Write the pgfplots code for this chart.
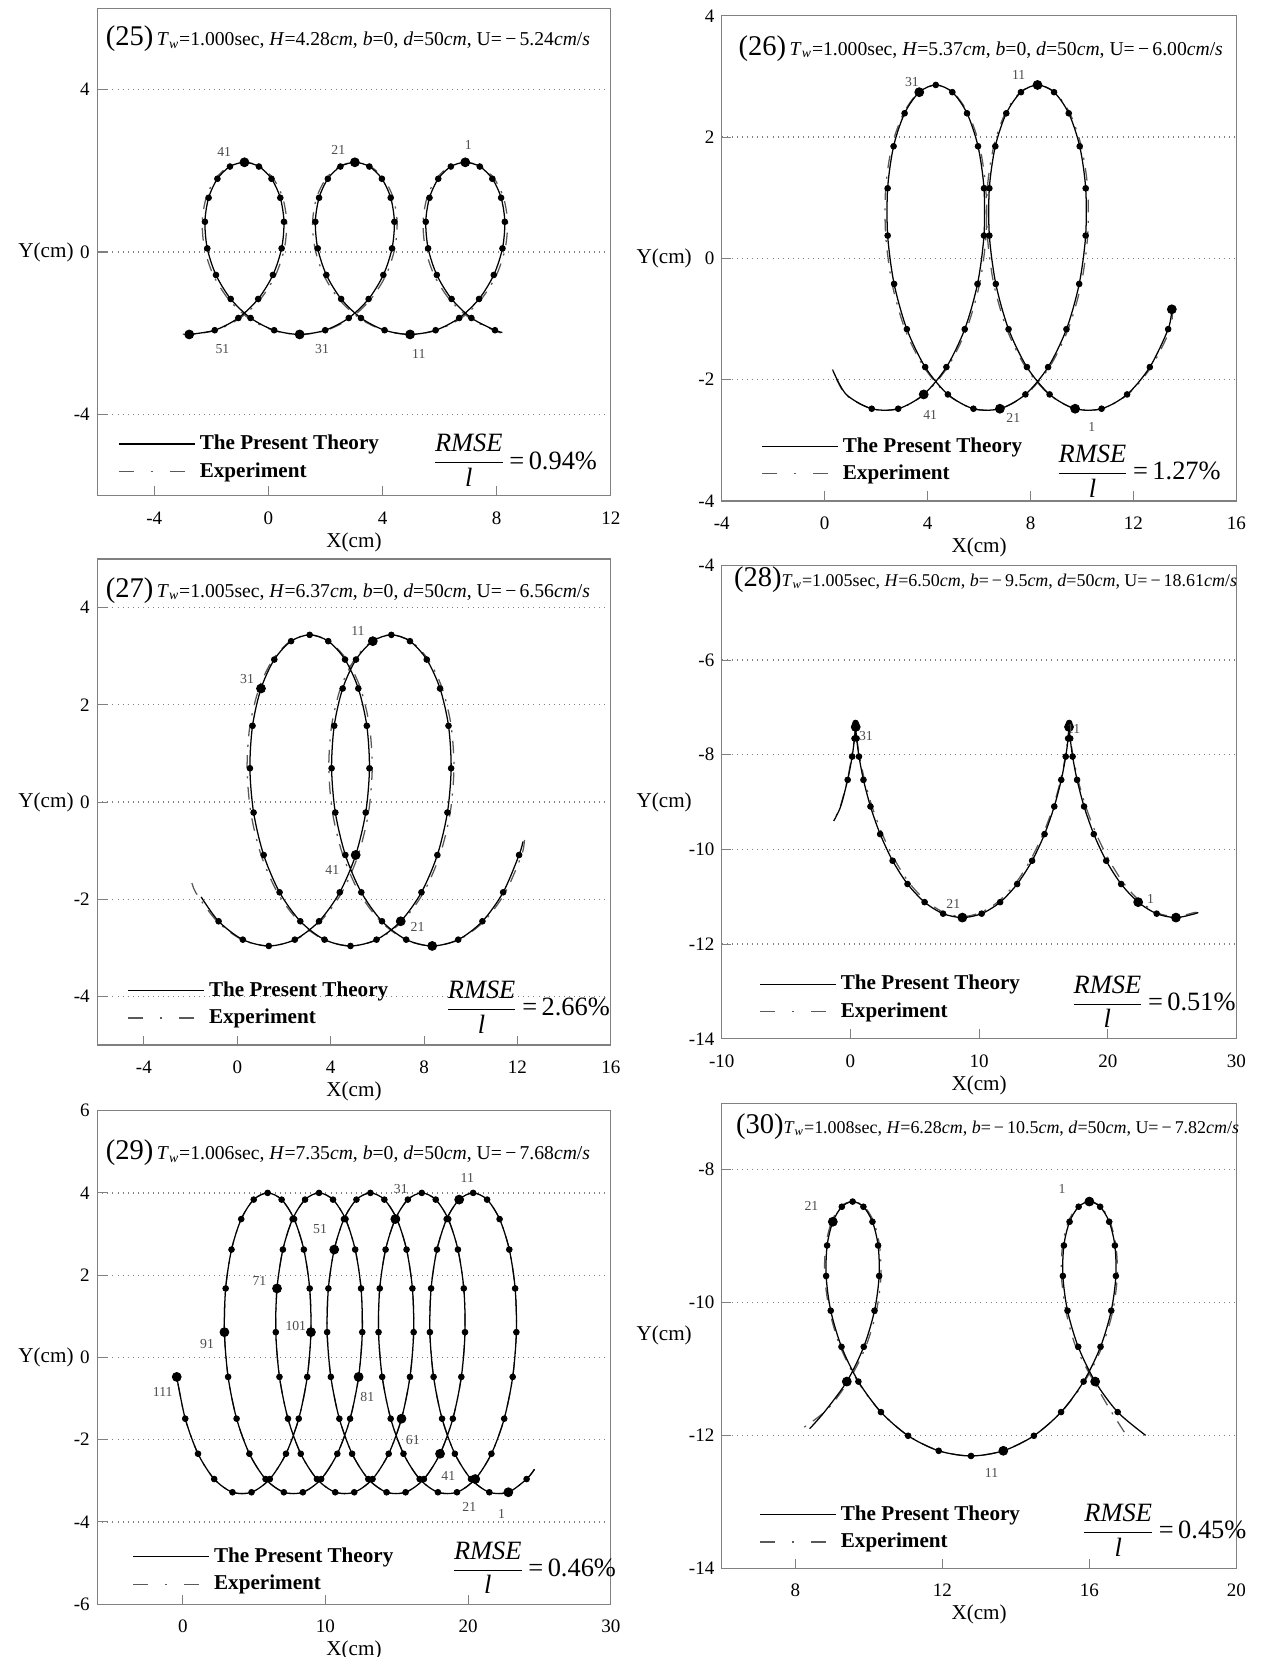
\documentclass[border=0pt]{standalone}
\usepackage{fontspec}
\setmainfont{Liberation Serif}
\usepackage{pgfplots}
\usepackage{pgfplotstable}
\pgfplotsset{compat=1.18}

\definecolor{framec}{gray}{0.5}
\definecolor{gridc}{gray}{0.5}
\definecolor{expc}{gray}{0.35}
\definecolor{lblc}{gray}{0.3}

\newcommand{\ptitle}[5]{{\fontsize{13.5}{14}\selectfont(#1)}\,{\fontsize{9.3}{10}\selectfont\textit{T}\textsubscript{\textit{w}}=#2sec, \textit{H}=#3\textit{cm}, \textit{b}=#4, \textit{d}=50\textit{cm}, U=\,−\,#5\textit{cm}/\textit{s}}}
\newcommand{\rmse}[1]{$\displaystyle\frac{\mbox{\itshape RMSE}}{\mbox{\itshape l}}$\,=\,#1\%}

\tikzset{lbl/.style={font=\fontsize{6.5}{7}\selectfont, text=lblc, inner sep=0pt}}

\pgfplotsset{
  panel/.style={
    scale only axis, anchor=south west, clip mode=individual,
    axis line style={framec, line width=0.6pt},
    tick style={framec, line width=0.5pt},
    tick align=inside, major tick length=4.5pt, tick pos=left,
    ymajorgrids, grid style={gridc, dotted, line width=0.6pt},
    ticklabel style={font=\fontsize{9}{10}\selectfont},
    xticklabel style={yshift=-4pt},
    /pgf/number format/assume math mode=true,
    xlabel={X(cm)}, ylabel={Y(cm)},
    label style={font=\fontsize{10}{11}\selectfont},
    every axis y label/.style={at={(axis description cs:0,0.5)}, anchor=east, inner sep=0pt, xshift=-11pt},
    xlabel style={yshift=3pt},
    legend cell align=left,
    legend style={draw=none, fill=none, inner sep=0pt, row sep=0.5pt,
      font=\bfseries\fontsize{10}{11}\selectfont, anchor=south west},
    legend image code/.code={\draw[#1] (0pt,0pt) -- (36pt,0pt);},
  },
  rightcol/.style={every axis y label/.append style={xshift=-3pt}},
  theory/.style={black, line width=0.6pt, smooth, tension=0.5},
  expt/.style={expc, line width=0.6pt, smooth, tension=0.5, dash pattern=on 6pt off 4pt on 1pt off 4pt},
  dots/.style={only marks, mark=*, mark size=1.35pt, black, mark options={solid}},
  bigdots/.style={only marks, mark=*, mark size=2.1pt, black, mark options={solid}},
}

% ---------------- Panel 25 ----------------
\pgfplotstableread{
x y
8.20 -1.98
7.940 -1.926
7.114 -1.625
6.419 -1.156
5.902 -0.565
5.598 0.090
5.515 0.745
5.645 1.336
5.953 1.805
6.393 2.106
6.900 2.210
7.408 2.106
7.847 1.805
8.156 1.336
8.285 0.745
8.203 0.090
7.898 -0.565
7.382 -1.156
6.686 -1.625
5.860 -1.926
4.965 -2.030
4.071 -1.926
3.244 -1.625
2.549 -1.156
2.032 -0.565
1.728 0.090
1.645 0.745
1.775 1.336
2.083 1.805
2.523 2.106
3.030 2.210
3.538 2.106
3.977 1.805
4.286 1.336
4.415 0.745
4.333 0.090
4.028 -0.565
3.512 -1.156
2.816 -1.625
1.990 -1.926
1.095 -2.030
0.201 -1.926
-0.626 -1.625
-1.322 -1.156
-1.838 -0.565
-2.143 0.090
-2.225 0.745
-2.096 1.336
-1.787 1.805
-1.348 2.106
-0.840 2.210
-0.333 2.106
0.107 1.805
0.416 1.336
0.545 0.745
0.463 0.090
0.158 -0.565
-0.359 -1.156
-1.054 -1.625
-1.881 -1.926
-2.775 -2.030
}\thA
\pgfplotstableread{
x y
8.15 -1.99
7.91 -1.93
7.06 -1.63
6.34 -1.16
5.81 -0.57
5.50 0.09
5.42 0.75
5.56 1.34
5.89 1.81
6.36 2.11
6.90 2.21
7.44 2.11
7.91 1.81
8.24 1.34
8.38 0.75
8.30 0.09
7.99 -0.57
7.46 -1.16
6.75 -1.63
5.89 -1.93
4.97 -2.03
4.04 -1.93
3.19 -1.63
2.47 -1.16
1.94 -0.57
1.63 0.09
1.55 0.75
1.69 1.34
2.02 1.81
2.49 2.11
3.03 2.21
3.57 2.11
4.04 1.81
4.37 1.34
4.51 0.75
4.43 0.09
4.12 -0.57
3.59 -1.16
2.88 -1.63
2.02 -1.93
1.10 -2.03
0.17 -1.93
-0.69 -1.63
-1.40 -1.16
-1.93 -0.57
-2.24 0.09
-2.32 0.75
-2.18 1.34
-1.85 1.81
-1.38 2.11
-0.84 2.21
-0.30 2.11
0.17 1.81
0.50 1.34
0.64 0.75
0.56 0.09
0.25 -0.57
-0.28 -1.16
-1.00 -1.63
-1.85 -1.93
-2.78 -2.03
-3.00 -2.02
}\exA
\pgfplotstableread{
x y
6.900 2.210
4.965 -2.030
3.030 2.210
1.095 -2.030
-0.840 2.210
-2.775 -2.030
}\bgA

% ---------------- Panel 26 ----------------
\pgfplotstableread{
x y
13.49 -0.84
13.347 -1.168
12.635 -1.793
11.752 -2.244
10.760 -2.480
9.732 -2.480
8.740 -2.244
7.858 -1.793
7.145 -1.168
6.650 -0.422
6.399 0.376
6.398 1.156
6.630 1.849
7.057 2.393
7.627 2.741
8.270 2.860
8.913 2.741
9.483 2.393
9.910 1.849
10.142 1.156
10.141 0.376
9.890 -0.422
9.395 -1.168
8.682 -1.793
7.800 -2.244
6.808 -2.480
5.780 -2.480
4.788 -2.244
3.905 -1.793
3.193 -1.168
2.698 -0.422
2.447 0.376
2.446 1.156
2.677 1.849
3.105 2.393
3.675 2.741
4.318 2.860
4.961 2.741
5.530 2.393
5.958 1.849
6.190 1.156
6.189 0.376
5.938 -0.422
5.442 -1.168
4.730 -1.793
3.848 -2.244
2.856 -2.480
1.828 -2.480
0.836 -2.244
0.32 -1.85
}\thB
\pgfplotstableread{
x y
13.52 -0.80
13.42 -1.17
12.69 -1.79
11.79 -2.24
10.77 -2.48
9.72 -2.48
8.71 -2.24
7.80 -1.79
7.08 -1.17
6.57 -0.42
6.32 0.38
6.32 1.16
6.57 1.85
7.01 2.39
7.60 2.74
8.27 2.86
8.94 2.74
9.53 2.39
9.97 1.85
10.22 1.16
10.22 0.38
9.97 -0.42
9.46 -1.17
8.74 -1.79
7.84 -2.24
6.82 -2.48
5.77 -2.48
4.75 -2.24
3.85 -1.79
3.12 -1.17
2.62 -0.42
2.37 0.38
2.37 1.16
2.61 1.85
3.06 2.39
3.65 2.74
4.32 2.86
4.98 2.74
5.58 2.39
6.02 1.85
6.26 1.16
6.27 0.38
6.02 -0.42
5.51 -1.17
4.78 -1.79
3.88 -2.24
2.87 -2.48
1.82 -2.48
0.80 -2.24
0.30 -1.83
}\exB
\pgfplotstableread{
x y
13.49 -0.84
9.732 -2.480
8.270 2.860
6.808 -2.480
3.675 2.741
3.848 -2.244
}\bgB

% ---------------- Panel 27 ----------------
\pgfplotstableread{
x y
12.24 -0.81
12.070 -1.089
11.389 -1.856
10.501 -2.452
9.464 -2.830
8.350 -2.960
7.236 -2.830
6.199 -2.452
5.311 -1.856
4.630 -1.089
4.199 -0.215
4.040 0.695
4.152 1.569
4.515 2.336
5.085 2.932
5.804 3.310
6.600 3.440
7.396 3.310
8.115 2.932
8.685 2.336
9.048 1.569
9.160 0.695
9.001 -0.215
8.570 -1.089
7.889 -1.856
7.001 -2.452
5.964 -2.830
4.850 -2.960
3.736 -2.830
2.699 -2.452
1.811 -1.856
1.130 -1.089
0.699 -0.215
0.540 0.695
0.653 1.569
1.016 2.336
1.585 2.932
2.304 3.310
3.100 3.440
3.896 3.310
4.615 2.932
5.185 2.336
5.548 1.569
5.661 0.695
5.502 -0.215
5.071 -1.089
4.390 -1.856
3.502 -2.452
2.465 -2.830
1.350 -2.960
0.236 -2.830
-0.801 -2.452
-1.55 -1.95
}\thC
\pgfplotstableread{
x y
12.30 -0.78
12.18 -1.09
11.48 -1.86
10.57 -2.45
9.50 -2.83
8.35 -2.96
7.20 -2.83
6.13 -2.45
5.22 -1.86
4.52 -1.09
4.08 -0.22
3.92 0.70
4.04 1.57
4.42 2.34
5.02 2.93
5.77 3.31
6.60 3.44
7.43 3.31
8.18 2.93
8.78 2.34
9.16 1.57
9.28 0.70
9.12 -0.22
8.68 -1.09
7.98 -1.86
7.07 -2.45
6.00 -2.83
4.85 -2.96
3.70 -2.83
2.63 -2.45
1.72 -1.86
1.02 -1.09
0.58 -0.22
0.42 0.70
0.54 1.57
0.93 2.34
1.52 2.93
2.27 3.31
3.10 3.44
3.93 3.31
4.68 2.93
5.28 2.34
5.66 1.57
5.78 0.70
5.62 -0.22
5.18 -1.09
4.48 -1.86
3.57 -2.45
2.50 -2.83
1.35 -2.96
0.20 -2.83
-0.87 -2.45
-1.78 -1.86
-1.97 -1.60
}\exC
\pgfplotstableread{
x y
8.350 -2.960
5.804 3.310
7.001 -2.452
1.016 2.336
5.071 -1.089
}\bgC

% ---------------- Panel 28 ----------------
\pgfplotstableread{
x y
27.00 -11.33
26.80 -11.357
25.301 -11.440
23.802 -11.357
22.363 -11.114
21.040 -10.731
19.879 -10.239
18.913 -9.677
18.158 -9.093
17.615 -8.531
17.267 -8.039
17.081 -7.656
17.011 -7.413
17.000 -7.330
16.989 -7.413
16.919 -7.656
16.733 -8.039
16.385 -8.531
15.842 -9.093
15.087 -9.677
14.121 -10.239
12.960 -10.731
11.637 -11.114
10.198 -11.357
8.699 -11.440
7.201 -11.357
5.762 -11.114
4.439 -10.731
3.278 -10.239
2.311 -9.677
1.557 -9.093
1.014 -8.531
0.666 -8.039
0.480 -7.656
0.410 -7.413
0.399 -7.330
0.388 -7.413
0.318 -7.656
0.132 -8.039
-0.216 -8.531
-0.759 -9.093
-1.30 -9.40
}\thD
\pgfplotstableread{
x y
27.00 -11.35
26.80 -11.33
25.30 -11.42
23.85 -11.34
22.45 -11.08
21.20 -10.70
20.05 -10.20
19.05 -9.64
18.25 -9.06
17.66 -8.50
17.30 -8.02
17.10 -7.66
17.02 -7.44
17.00 -7.38
16.98 -7.44
16.90 -7.66
16.70 -8.04
16.33 -8.54
15.76 -9.10
14.98 -9.67
14.00 -10.22
12.85 -10.71
11.55 -11.09
10.15 -11.33
8.70 -11.42
7.25 -11.33
5.85 -11.08
4.55 -10.70
3.40 -10.20
2.42 -9.64
1.64 -9.06
1.07 -8.50
0.70 -8.02
0.50 -7.66
0.42 -7.44
0.40 -7.38
0.38 -7.44
0.30 -7.66
0.10 -8.04
-0.25 -8.54
-0.80 -9.10
-1.30 -9.38
}\exD
\pgfplotstableread{
x y
25.301 -11.440
22.363 -11.114
16.989 -7.413
8.699 -11.440
0.410 -7.413
}\bgD

% ---------------- Panel 29 ----------------
\pgfplotstableread{
x y
24.65 -2.72
24.099 -2.958
22.817 -3.279
21.484 -3.279
20.201 -2.958
19.069 -2.343
18.172 -1.490
17.577 -0.474
17.318 0.614
17.405 1.677
17.815 2.622
18.496 3.364
19.371 3.837
20.350 4.000
21.329 3.837
22.204 3.364
22.885 2.622
23.295 1.677
23.382 0.614
23.123 -0.474
22.528 -1.490
21.631 -2.343
20.499 -2.958
19.217 -3.279
17.883 -3.279
16.601 -2.958
15.468 -2.343
14.572 -1.490
13.976 -0.474
13.718 0.614
13.804 1.677
14.215 2.622
14.895 3.364
15.771 3.837
16.750 4.000
17.728 3.837
18.604 3.364
19.284 2.622
19.695 1.677
19.781 0.614
19.523 -0.474
18.927 -1.490
18.031 -2.343
16.899 -2.958
15.616 -3.279
14.283 -3.279
13.000 -2.958
11.868 -2.343
10.971 -1.490
10.376 -0.474
10.117 0.614
10.204 1.677
10.614 2.622
11.295 3.364
12.171 3.837
13.149 4.000
14.128 3.837
15.003 3.364
15.684 2.622
16.094 1.677
16.181 0.614
15.922 -0.474
15.327 -1.490
14.431 -2.343
13.298 -2.958
12.016 -3.279
10.682 -3.279
9.400 -2.958
8.267 -2.343
7.371 -1.490
6.775 -0.474
6.517 0.614
6.603 1.677
7.014 2.622
7.695 3.364
8.570 3.837
9.549 4.000
10.527 3.837
11.403 3.364
12.083 2.622
12.494 1.677
12.580 0.614
12.322 -0.474
11.727 -1.490
10.830 -2.343
9.698 -2.958
8.415 -3.279
7.082 -3.279
5.799 -2.958
4.667 -2.343
3.770 -1.490
3.175 -0.474
2.916 0.614
3.003 1.677
3.414 2.622
4.094 3.364
4.970 3.837
5.948 4.000
6.927 3.837
7.802 3.364
8.483 2.622
8.893 1.677
8.980 0.614
8.722 -0.474
8.126 -1.490
7.230 -2.343
6.097 -2.958
4.815 -3.279
3.481 -3.279
2.199 -2.958
1.066 -2.343
0.170 -1.490
-0.426 -0.474
}\thE
\pgfplotstableread{
x y
22.817 -3.279
19.371 3.837
20.499 -2.958
14.895 3.364
18.031 -2.343
10.614 2.622
15.327 -1.490
6.603 1.677
12.322 -0.474
2.916 0.614
8.980 0.614
-0.426 -0.474
}\bgE

% ---------------- Panel 30 ----------------
\pgfplotstableread{
x y
17.53 -12.00
16.770 -11.649
16.157 -11.190
15.697 -10.667
15.405 -10.123
15.279 -9.600
15.306 -9.141
15.461 -8.784
15.707 -8.558
16.000 -8.480
16.293 -8.558
16.539 -8.784
16.694 -9.141
16.721 -9.600
16.595 -10.123
16.303 -10.667
15.843 -11.190
15.230 -11.649
14.490 -12.006
13.659 -12.232
12.780 -12.310
11.901 -12.232
11.070 -12.006
10.330 -11.649
9.717 -11.190
9.257 -10.667
8.964 -10.123
8.839 -9.600
8.866 -9.141
9.021 -8.784
9.266 -8.558
9.560 -8.480
9.853 -8.558
10.099 -8.784
10.253 -9.141
10.281 -9.600
10.155 -10.123
9.862 -10.667
9.402 -11.190
8.790 -11.649
8.39 -11.90
}\thF
\pgfplotstableread{
x y
16.95 -11.95
16.55 -11.60
16.08 -11.15
15.62 -10.65
15.36 -10.12
15.24 -9.60
15.27 -9.14
15.43 -8.78
15.69 -8.55
16.00 -8.48
16.30 -8.55
16.56 -8.78
16.72 -9.14
16.76 -9.60
16.64 -10.12
16.35 -10.66
15.88 -11.18
15.25 -11.64
14.50 -12.00
13.66 -12.23
12.78 -12.31
11.90 -12.23
11.06 -12.00
10.31 -11.64
9.69 -11.18
9.22 -10.66
8.93 -10.12
8.80 -9.60
8.83 -9.14
8.99 -8.78
9.24 -8.55
9.56 -8.48
9.87 -8.55
10.13 -8.78
10.29 -9.14
10.33 -9.60
10.21 -10.12
9.92 -10.66
9.45 -11.18
8.85 -11.62
8.10 -11.93
}\exF
\pgfplotstableread{
x y
16.000 -8.480
13.659 -12.232
9.021 -8.784
16.157 -11.190
9.402 -11.190
}\bgF

\newcommand{\legendpair}{%
  \addlegendimage{black, line width=0.6pt}
  \addlegendentry{The Present Theory}
  \addlegendimage{expc, line width=0.6pt, dash pattern=on 7pt off 8pt on 1.2pt off 8pt}
  \addlegendentry{Experiment}}

\begin{document}
\begin{tikzpicture}
\useasboundingbox (0,0) rectangle (598.5pt,784pt);

% ---- (25)
\begin{axis}[panel, at={(46pt,549.5pt)}, width=243pt, height=230.5pt,
  xmin=-6, xmax=12, ymin=-6, ymax=6, xtick={-4,0,4,8,12}, ytick={-4,0,4},
  legend style={at={(0.04,0.022)}}]
\legendpair
\addplot[expt, forget plot] table {\exA};
\addplot[theory, forget plot] table {\thA};
\addplot[dots, forget plot, skip coords between index={0}{1}] table {\thA};
\addplot[bigdots, forget plot] table {\bgA};
\node[lbl] at (axis cs:7.01,2.64) {1};
\node[lbl] at (axis cs:2.45,2.52) {21};
\node[lbl] at (axis cs:-1.55,2.47) {41};
\node[lbl] at (axis cs:-1.61,-2.38) {51};
\node[lbl] at (axis cs:1.88,-2.40) {31};
\node[lbl] at (axis cs:5.27,-2.51) {11};
\node[anchor=west, inner sep=0pt] at (axis description cs:0.016,0.937) {\ptitle{25}{1.000}{4.28}{0}{5.24}};
\node[anchor=west, inner sep=0pt, font=\fontsize{12.5}{14}\selectfont] at (axis description cs:0.652,0.072) {\rmse{0.94}};
\end{axis}

% ---- (26)
\begin{axis}[panel, rightcol, at={(341.5pt,547pt)}, width=243.5pt, height=229.5pt,
  xmin=-4, xmax=16, ymin=-4, ymax=4, xtick={-4,0,4,8,12,16}, ytick={-4,-2,0,2,4},
  legend style={at={(0.076,0.028)}}]
\legendpair
\addplot[expt, forget plot] table {\exB};
\addplot[theory, forget plot] table {\thB};
\addplot[dots, forget plot, skip coords between index={48}{50}] table {\thB};
\addplot[bigdots, forget plot] table {\bgB};
\node[lbl] at (axis cs:3.39,2.91) {31};
\node[lbl] at (axis cs:7.54,3.02) {11};
\node[lbl] at (axis cs:4.10,-2.58) {41};
\node[lbl] at (axis cs:7.33,-2.63) {21};
\node[lbl] at (axis cs:10.38,-2.78) {1};
\node[anchor=west, inner sep=0pt] at (axis description cs:0.032,0.932) {\ptitle{26}{1.000}{5.37}{0}{6.00}};
\node[anchor=west, inner sep=0pt, font=\fontsize{12.5}{14}\selectfont] at (axis description cs:0.649,0.061) {\rmse{1.27}};
\end{axis}

% ---- (27)
\begin{axis}[panel, at={(46pt,289.5pt)}, width=243pt, height=230pt,
  xmin=-6, xmax=16, ymin=-5, ymax=5, xtick={-4,0,4,8,12,16}, ytick={-4,-2,0,2,4},
  legend style={at={(0.058,0.028)}}]
\legendpair
\addplot[expt, forget plot] table {\exC};
\addplot[theory, forget plot] table {\thC};
\addplot[dots, forget plot, skip coords between index={0}{1}, skip coords between index={52}{53}] table {\thC};
\addplot[bigdots, forget plot] table {\bgC};
\node[lbl] at (axis cs:5.17,3.51) {11};
\node[lbl] at (axis cs:0.42,2.54) {31};
\node[lbl] at (axis cs:4.07,-1.40) {41};
\node[lbl] at (axis cs:7.72,-2.57) {21};
\node[anchor=west, inner sep=0pt] at (axis description cs:0.016,0.935) {\ptitle{27}{1.005}{6.37}{0}{6.56}};
\node[anchor=west, inner sep=0pt, font=\fontsize{12.5}{14}\selectfont] at (axis description cs:0.677,0.078) {\rmse{2.66}};
\end{axis}

% ---- (28)
\begin{axis}[panel, rightcol, at={(341.5pt,292.5pt)}, width=243.5pt, height=224pt,
  xmin=-10, xmax=30, ymin=-14, ymax=-4, xtick={-10,0,10,20,30}, ytick={-14,-12,-10,-8,-6,-4},
  legend style={at={(0.072,0.029)}}]
\legendpair
\addplot[expt, forget plot] table {\exD};
\addplot[theory, forget plot] table {\thD};
\addplot[dots, forget plot, skip coords between index={0}{2}, skip coords between index={40}{42}] table {\thD};
\addplot[bigdots, forget plot] table {\bgD};
\node[lbl] at (axis cs:1.2,-7.6) {31};
\node[lbl] at (axis cs:17.35,-7.45) {11};
\node[lbl] at (axis cs:8.0,-11.15) {21};
\node[lbl] at (axis cs:23.33,-11.04) {1};
\node[anchor=west, inner sep=0pt] at (axis description cs:0.023,0.970) {{\fontsize{13.5}{14}\selectfont(28)}{\fontsize{8.5}{10}\selectfont\textit{T}\textsubscript{\textit{w}}=1.005sec, \textit{H}=6.50\textit{cm}, \textit{b}=\,−\,9.5\textit{cm}, \textit{d}=50\textit{cm}, U=\,−\,18.61\textit{cm}/\textit{s}}};
\node[anchor=west, inner sep=0pt, font=\fontsize{12.5}{14}\selectfont] at (axis description cs:0.678,0.078) {\rmse{0.51}};
\end{axis}

% ---- (29)
\begin{axis}[panel, at={(46pt,25pt)}, width=243pt, height=233.5pt,
  xmin=-6, xmax=30, ymin=-6, ymax=6, xtick={0,10,20,30}, ytick={-6,-4,-2,0,2,4,6},
  legend style={at={(0.068,0.013)}}]
\legendpair
\addplot[expt, forget plot] table {\thE};
\addplot[theory, forget plot] table {\thE};
\addplot[dots, forget plot, skip coords between index={0}{1}] table {\thE};
\addplot[bigdots, forget plot] table {\bgE};
\node[lbl] at (axis cs:19.94,4.36) {11};
\node[lbl] at (axis cs:15.28,4.10) {31};
\node[lbl] at (axis cs:9.62,3.11) {51};
\node[lbl] at (axis cs:5.37,1.87) {71};
\node[lbl] at (axis cs:7.92,0.77) {101};
\node[lbl] at (axis cs:1.70,0.32) {91};
\node[lbl] at (axis cs:-1.41,-0.84) {111};
\node[lbl] at (axis cs:12.93,-0.97) {81};
\node[lbl] at (axis cs:16.12,-2.00) {61};
\node[lbl] at (axis cs:18.61,-2.88) {41};
\node[lbl] at (axis cs:20.08,-3.64) {21};
\node[lbl] at (axis cs:22.35,-3.81) {1};
\node[anchor=west, inner sep=0pt] at (axis description cs:0.016,0.914) {\ptitle{29}{1.006}{7.35}{0}{7.68}};
\node[anchor=west, inner sep=0pt, font=\fontsize{12.5}{14}\selectfont] at (axis description cs:0.689,0.074) {\rmse{0.46}};
\end{axis}

% ---- (30)
\begin{axis}[panel, rightcol, at={(341.5pt,42pt)}, width=243.5pt, height=220pt,
  xmin=6, xmax=20, ymin=-14, ymax=-7, xtick={8,12,16,20}, ytick={-14,-12,-10,-8},
  legend style={at={(0.072,0.027)}}]
\legendpair
\addplot[expt, forget plot] table {\exF};
\addplot[theory, forget plot] table {\thF};
\addplot[dots, forget plot, skip coords between index={0}{1}, skip coords between index={39}{41}] table {\thF};
\addplot[bigdots, forget plot] table {\bgF};
\node[lbl] at (axis cs:15.26,-8.29) {1};
\node[lbl] at (axis cs:8.44,-8.55) {21};
\node[lbl] at (axis cs:13.34,-12.56) {11};
\node[anchor=west, inner sep=0pt] at (axis description cs:0.027,0.950) {{\fontsize{13.5}{14}\selectfont(30)}{\fontsize{8.5}{10}\selectfont\textit{T}\textsubscript{\textit{w}}=1.008sec, \textit{H}=6.28\textit{cm}, \textit{b}=\,−\,10.5\textit{cm}, \textit{d}=50\textit{cm}, U=\,−\,7.82\textit{cm}/\textit{s}}};
\node[anchor=west, inner sep=0pt, font=\fontsize{12.5}{14}\selectfont] at (axis description cs:0.699,0.082) {\rmse{0.45}};
\end{axis}
\end{tikzpicture}
\end{document}
